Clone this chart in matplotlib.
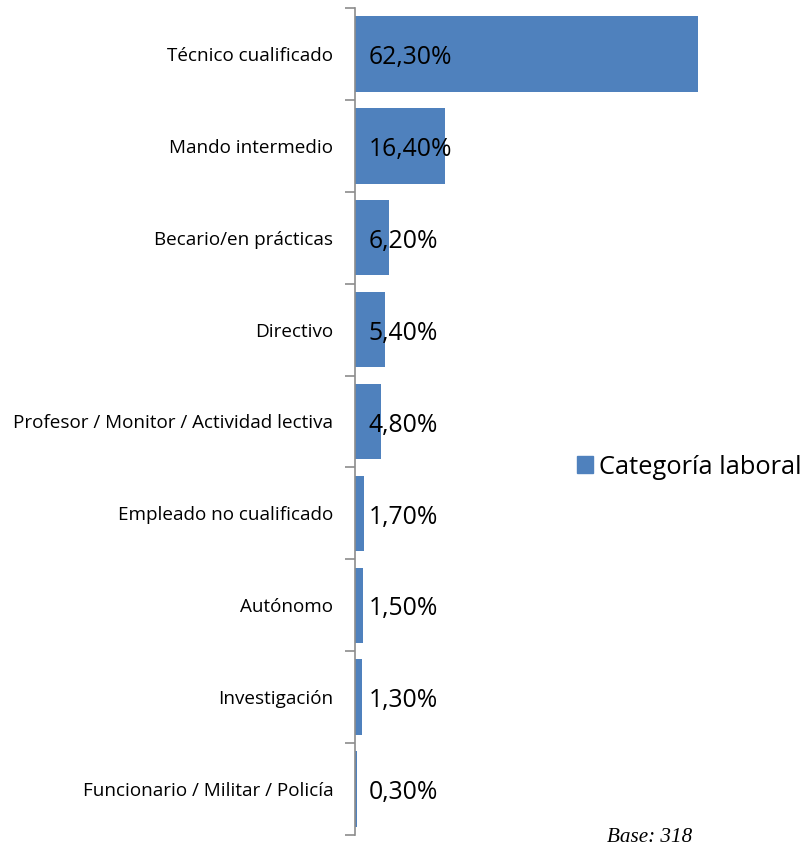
import matplotlib.pyplot as plt
import numpy as np
from matplotlib.patches import Patch

# Datos
categorias = [
    'Técnico cualificado',
    'Mando intermedio',
    'Becario/en prácticas',
    'Directivo',
    'Profesor / Monitor / Actividad lectiva',
    'Empleado no cualificado',
    'Autónomo',
    'Investigación',
    'Funcionario / Militar / Policía',
]
valores = [62.3, 16.4, 6.2, 5.4, 4.8, 1.7, 1.5, 1.3, 0.3]
etiquetas = ['62,30%', '16,40%', '6,20%', '5,40%', '4,80%', '1,70%', '1,50%', '1,30%', '0,30%']

color_barra = '#4F81BD'
color_eje = '#8C8C8C'

fig = plt.figure(figsize=(8.09, 8.48), dpi=100)
ax = fig.add_axes([355 / 809, 1 - 835 / 848, 440 / 809, 827 / 848])

y = np.arange(len(categorias))
ax.barh(y, valores, height=0.82, color=color_barra)
ax.set_ylim(len(categorias) - 0.5, -0.5)
ax.set_xlim(0, 80)

for i, txt in enumerate(etiquetas):
    ax.text(2.5, i + 0.04, txt, va='center', ha='left', fontsize=17.8,
            family='Open Sans', color='black')

# Eje vertical con marcas entre categorías
for s in ['top', 'right', 'bottom']:
    ax.spines[s].set_visible(False)
ax.spines['left'].set_color(color_eje)
ax.spines['left'].set_linewidth(1.2)
ax.set_xticks([])
ax.set_yticks(np.arange(-0.5, len(categorias), 1))
ax.set_yticklabels([])
ax.tick_params(axis='y', which='major', length=7, color=color_eje, width=1.2, direction='out')
ax.set_yticks(y, minor=True)
ax.set_yticklabels(categorias, minor=True, fontsize=13.6, family='Open Sans')
ax.tick_params(axis='y', which='minor', length=0, pad=15.5)

leg = fig.legend(handles=[Patch(color=color_barra, label='Categoría laboral')],
                 loc='center left', bbox_to_anchor=(577 / 809, 1 - 467 / 848),
                 frameon=False, prop={'family': 'Open Sans', 'size': 18.4},
                 borderpad=0, borderaxespad=0,
                 handlelength=0.62, handleheight=0.62, handletextpad=0.25)

fig.text(692 / 809, 1 - 838 / 848, 'Base: 318', ha='right', va='center',
         fontsize=15.2, style='italic', family='Liberation Serif')

plt.savefig('out.png', dpi=100)
plt.close()
